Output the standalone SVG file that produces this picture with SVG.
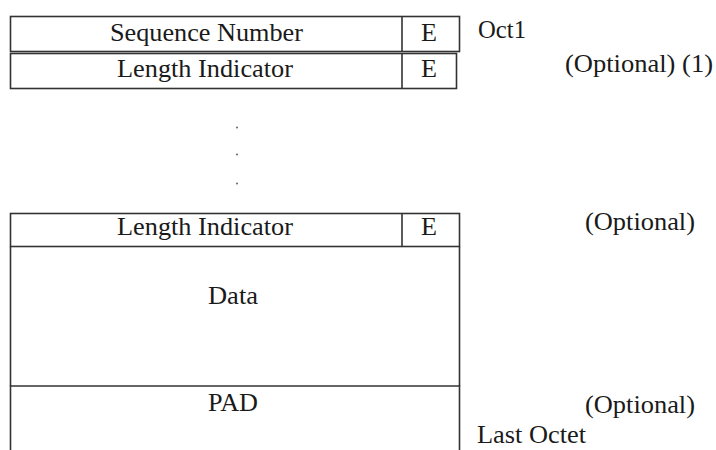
<svg xmlns="http://www.w3.org/2000/svg" width="716" height="450" viewBox="0 0 716 450">
<style>
.b{fill:none;stroke:#333;stroke-width:1.6}
text{font-family:'Liberation Serif','DejaVu Serif',serif;font-size:26px;fill:#1a1a1a}
</style>
<rect width="716" height="450" fill="#fff"/>
<g id="seq">
<rect class="b" x="10.5" y="16.5" width="449" height="35"/>
<line class="b" x1="402" y1="16.5" x2="402" y2="51.5"/>
<text x="110" y="41" textLength="193" lengthAdjust="spacingAndGlyphs">Sequence Number</text>
<text x="421" y="41" textLength="16" lengthAdjust="spacingAndGlyphs">E</text>
</g>
<g id="li1">
<rect class="b" x="10.5" y="53.5" width="446" height="35"/>
<line class="b" x1="402" y1="53.5" x2="402" y2="88.5"/>
<text x="117" y="77" textLength="176" lengthAdjust="spacingAndGlyphs">Length Indicator</text>
<text x="421" y="77" textLength="16" lengthAdjust="spacingAndGlyphs">E</text>
</g>
<g id="dots" fill="#555">
<circle cx="237" cy="127.5" r="0.9"/>
<circle cx="237" cy="154.5" r="0.9"/>
<circle cx="237" cy="183.5" r="0.9"/>
</g>
<g id="li2">
<rect class="b" x="10.5" y="213.5" width="449" height="33"/>
<line class="b" x1="402" y1="213.5" x2="402" y2="246.5"/>
<text x="117" y="235" textLength="176" lengthAdjust="spacingAndGlyphs">Length Indicator</text>
<text x="421" y="235" textLength="16" lengthAdjust="spacingAndGlyphs">E</text>
</g>
<g id="data">
<path class="b" d="M10.5 246.5V386M459.5 246.5V386"/>
<text x="208" y="304" textLength="50" lengthAdjust="spacingAndGlyphs">Data</text>
</g>
<g id="pad">
<path class="b" d="M10.5 450V386H459.5V450"/>
<text x="208" y="411" textLength="50" lengthAdjust="spacingAndGlyphs">PAD</text>
</g>
<g id="labels">
<text x="478" y="38" textLength="48" lengthAdjust="spacingAndGlyphs">Oct1</text>
<text x="565" y="72" textLength="148" lengthAdjust="spacingAndGlyphs">(Optional) (1)</text>
<text x="585" y="230" textLength="110" lengthAdjust="spacingAndGlyphs">(Optional)</text>
<text x="585" y="413" textLength="110" lengthAdjust="spacingAndGlyphs">(Optional)</text>
<text x="477" y="443" textLength="109" lengthAdjust="spacingAndGlyphs">Last Octet</text>
</g>
<g id="connectors"/>
</svg>
